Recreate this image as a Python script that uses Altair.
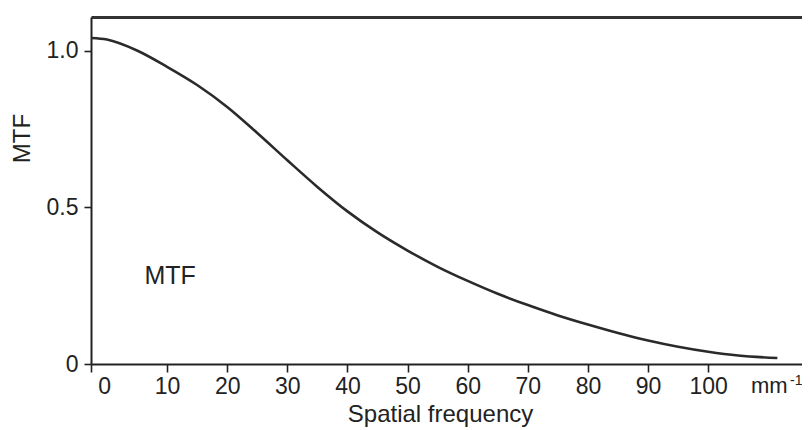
import altair as alt
import pandas as pd

# Curve (spatial frequency in mm^-1, MTF)
freq = [-2.6, 0, 5, 10, 15, 20, 25, 30, 35, 40, 45, 50, 55, 60, 65, 70,
        75, 80, 85, 90, 95, 100, 105, 111.5]
mtf = [1.04, 1.035, 1.0, 0.948, 0.89, 0.82, 0.737, 0.65, 0.565, 0.487, 0.42,
       0.362, 0.31, 0.265, 0.224, 0.188, 0.155, 0.126, 0.099, 0.075, 0.055,
       0.039, 0.027, 0.019]

x_ticks = [-2.65, 10, 20, 30, 40, 50, 60, 70, 80, 90, 100]
y_ticks = [0, 0.5, 1.0]
x_domain = [-2.65, 115.6]
y_domain = [0, 1.107]

# annotations
inner_label = pd.DataFrame({"x": [10.5], "y": [0.28], "t": ["MTF"]})
zero_label = pd.DataFrame({"x": [-0.4], "y": [-0.0383], "t": ["0"]})
unit_label = pd.DataFrame({"x": [107.1], "y": [-0.0383], "t": ["mm"]})
unit_sup = pd.DataFrame({"x": [113.6], "y": [-0.031], "t": ["-1"]})

df = pd.DataFrame({"freq": freq, "mtf": mtf})

INK = "#222222"
FONT = "Liberation Sans"
LBL = 23
TTL = 24

xs = alt.Scale(domain=x_domain, nice=False, zero=False)
ys = alt.Scale(domain=y_domain, nice=False, zero=False)

curve = alt.Chart(df).mark_line(
    color="#2a2a2a", strokeWidth=2.6, interpolate="monotone", clip=False
).encode(
    x=alt.X("freq:Q", scale=xs, axis=alt.Axis(
        values=x_ticks,
        labelExpr="datum.value < 0 ? '' : datum.label",
        grid=False, tickSize=8, tickWidth=1.6, tickColor=INK,
        domainColor=INK, domainWidth=2,
        labelFontSize=LBL, labelColor=INK, labelPadding=3, labelFont=FONT,
        title="Spatial frequency", titleFontSize=TTL, titleFontWeight="normal",
        titleColor=INK, titleFont=FONT, titleX=349, titleY=57,
        titleAlign="center", titleBaseline="alphabetic",
    )),
    y=alt.Y("mtf:Q", scale=ys, axis=alt.Axis(
        values=y_ticks,
        labelExpr="datum.value == 0 ? '0' : format(datum.value, '.1f')",
        grid=False, tickSize=7, tickWidth=1.6, tickColor=INK,
        domainColor=INK, domainWidth=2,
        labelFontSize=LBL, labelColor=INK, labelPadding=6, labelFont=FONT,
        title="MTF", titleFontSize=TTL, titleFontWeight="normal",
        titleColor=INK, titleFont=FONT, titleAngle=270,
        titleX=-69, titleY=121, titleAlign="center", titleBaseline="middle",
    )),
)

top_line = alt.Chart(df).mark_line(opacity=0).encode(
    x=alt.X("freq:Q", scale=xs, axis=alt.Axis(
        orient="top", labels=False, ticks=False, grid=False, title=None,
        domainColor="#333333", domainWidth=3,
    )),
    y=alt.Y("mtf:Q", scale=ys, axis=None),
)

def text_layer(data, size, align="center", baseline="top"):
    return alt.Chart(data).mark_text(
        fontSize=size, font=FONT, color=INK, align=align, baseline=baseline,
        clip=False,
    ).encode(
        x=alt.X("x:Q", scale=xs, axis=None),
        y=alt.Y("y:Q", scale=ys, axis=None),
        text="t:N",
    )

chart = alt.layer(
    curve,
    top_line,
    text_layer(inner_label, TTL + 1, baseline="middle"),
    text_layer(zero_label, LBL),
    text_layer(unit_label, LBL - 1, align="left"),
    text_layer(unit_sup, 14, align="left"),
).resolve_axis(x="independent", y="independent").properties(
    width=711, height=347,
    autosize=alt.AutoSizeParams(type="none"),
    padding={"left": 83, "top": 9, "right": 0, "bottom": 66},
).configure_view(stroke=None).configure(background="white")

chart.save("out.html", embed_options={"renderer": "svg", "actions": False})
